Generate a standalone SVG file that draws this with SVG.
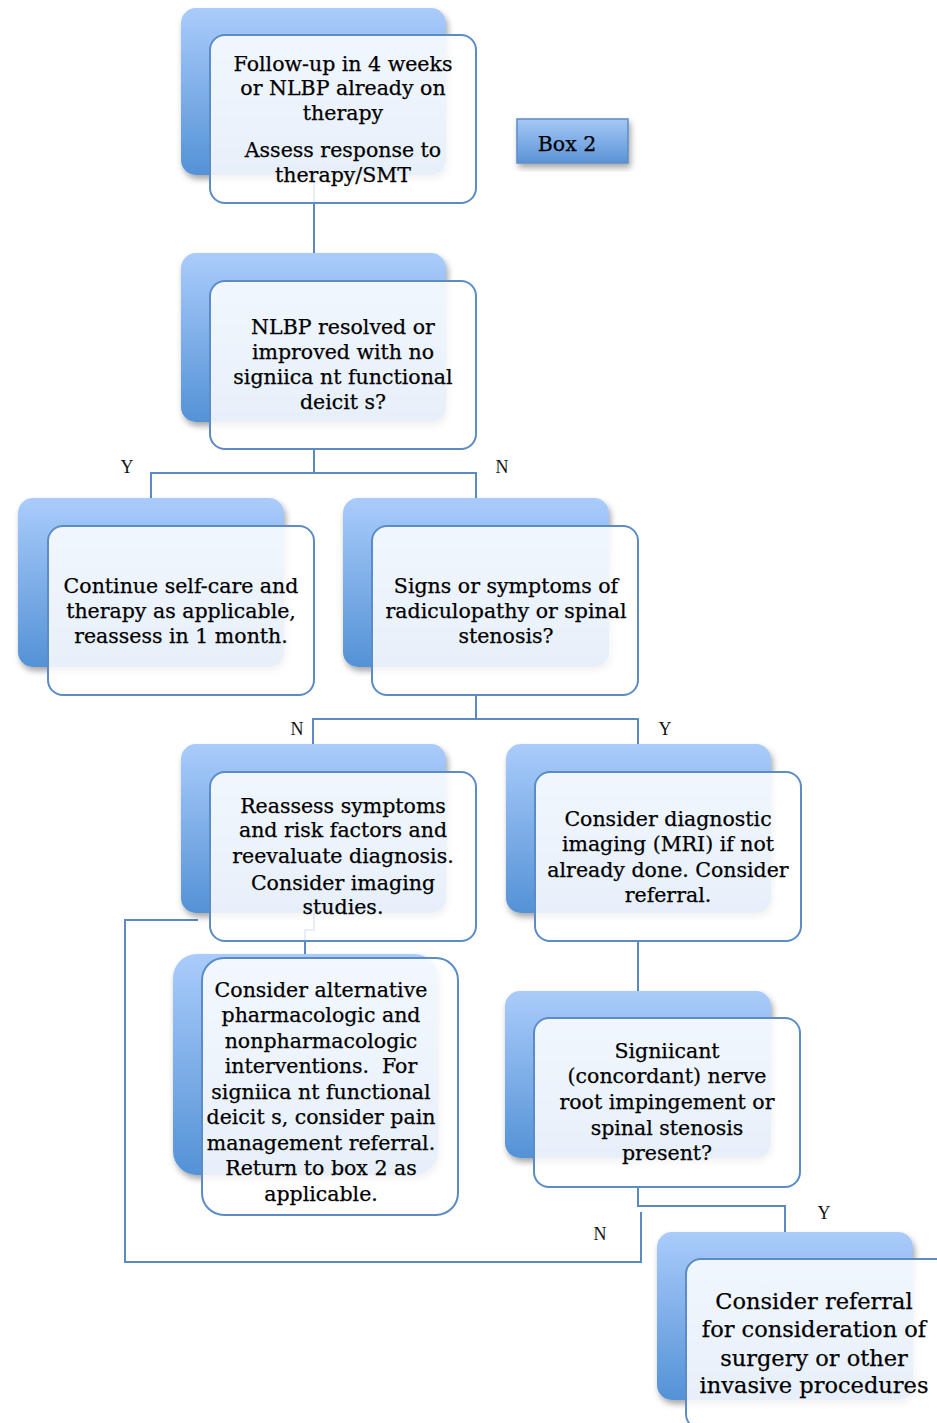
<svg xmlns="http://www.w3.org/2000/svg" width="937" height="1423" viewBox="0 0 937 1423">
  <defs>
    <linearGradient id="backFill" x1="0" y1="0" x2="0" y2="1">
      <stop offset="0" stop-color="#AACCFB"/>
      <stop offset="1" stop-color="#5492D6"/>
    </linearGradient>
    <linearGradient id="tagFill" x1="0" y1="0" x2="0" y2="1">
      <stop offset="0" stop-color="#A6C8F6"/>
      <stop offset="1" stop-color="#5A93D6"/>
    </linearGradient>
    <filter id="shadow" x="-10%" y="-10%" width="125%" height="130%">
      <feDropShadow dx="2" dy="4" stdDeviation="3" flood-color="#000" flood-opacity="0.35"/>
    </filter>
  </defs>
  <style>
    .back { fill: url(#backFill); filter: url(#shadow); }
    .front { fill: #FFFFFF; fill-opacity: 0.86; stroke: #5B8CC6; stroke-width: 2; }
    .wire { fill: none; stroke: #5A8AC4; stroke-width: 2; }
    .txt { font-family: "DejaVu Serif", "Liberation Serif", serif; font-size: 20.5px; fill: #000; text-anchor: middle; stroke: #000; stroke-width: 0.25; white-space: pre; }
    .big { font-size: 22.5px; }
    .lbl { font-family: "Liberation Serif", serif; font-size: 18px; fill: #111; text-anchor: middle; }
  </style>

  <rect width="937" height="1423" fill="#FFFFFF"/>

  <!-- connectors -->
  <g id="connectors">
    <path class="wire" d="M314,175 V253"/>
    <path class="wire" d="M314,449 V473 M151,498 V473 H476 V498"/>
    <path class="wire" d="M476,695 V719 M313,744 V719 H638 V744"/>
    <path class="wire" d="M314,913 V930 H305 V957"/>
    <path class="wire" d="M198,920 H125 V1262 H641 V1212"/>
    <path class="wire" d="M638,941 V991"/>
    <path class="wire" d="M638,1187 V1206 H785 V1232"/>
    <text class="lbl" x="127" y="473">Y</text>
    <text class="lbl" x="502" y="473">N</text>
    <text class="lbl" x="297" y="735">N</text>
    <text class="lbl" x="665" y="735">Y</text>
    <text class="lbl" x="600" y="1240">N</text>
    <text class="lbl" x="824" y="1219">Y</text>
  </g>

  <!-- Follow-up -->
  <g id="node-followup">
    <rect class="back" x="181" y="8" width="265" height="167" rx="15"/>
    <rect class="front" x="210" y="35" width="266" height="168" rx="15"/>
    <text class="txt" x="343" y="71">Follow-up in 4 weeks</text>
    <text class="txt" x="343" y="95">or NLBP already on</text>
    <text class="txt" x="343" y="120">therapy</text>
    <text class="txt" x="343" y="157">Assess response to</text>
    <text class="txt" x="343" y="182">therapy/SMT</text>
  </g>

  <!-- Box 2 tag -->
  <g id="node-box2">
    <rect x="517" y="119" width="111" height="44" fill="url(#tagFill)" stroke="#5B8CC6" stroke-width="1.5" filter="url(#shadow)"/>
    <text class="txt" x="567" y="151">Box 2</text>
  </g>

  <!-- Resolved? -->
  <g id="node-resolved">
    <rect class="back" x="181" y="253" width="265" height="169" rx="15"/>
    <rect class="front" x="210" y="281" width="266" height="168" rx="15"/>
    <text class="txt" x="343" y="334">NLBP resolved or</text>
    <text class="txt" x="343" y="359">improved with no</text>
    <text class="txt" x="343" y="384">signiica nt functional</text>
    <text class="txt" x="343" y="409">deicit s?</text>
  </g>

  <!-- Continue self-care -->
  <g id="node-continue">
    <rect class="back" x="18" y="498" width="266" height="169" rx="15"/>
    <rect class="front" x="48" y="526" width="266" height="169" rx="15"/>
    <text class="txt" x="181" y="593">Continue self-care and</text>
    <text class="txt" x="181" y="618">therapy as applicable,</text>
    <text class="txt" x="181" y="643">reassess in 1 month.</text>
  </g>

  <!-- Radiculopathy? -->
  <g id="node-signs">
    <rect class="back" x="343" y="498" width="266" height="169" rx="15"/>
    <rect class="front" x="372" y="526" width="266" height="169" rx="15"/>
    <text class="txt" x="506" y="593">Signs or symptoms of</text>
    <text class="txt" x="506" y="618">radiculopathy or spinal</text>
    <text class="txt" x="506" y="643">stenosis?</text>
  </g>

  <!-- Reassess -->
  <g id="node-reassess">
    <rect class="back" x="181" y="744" width="265" height="169" rx="15"/>
    <rect class="front" x="210" y="772" width="266" height="169" rx="15"/>
    <text class="txt" x="343" y="813">Reassess symptoms</text>
    <text class="txt" x="343" y="837">and risk factors and</text>
    <text class="txt" x="343" y="863">reevaluate diagnosis.</text>
    <text class="txt" x="343" y="890">Consider imaging</text>
    <text class="txt" x="343" y="914">studies.</text>
  </g>

  <!-- Imaging -->
  <g id="node-imaging">
    <rect class="back" x="506" y="744" width="265" height="169" rx="15"/>
    <rect class="front" x="535" y="772" width="266" height="169" rx="15"/>
    <text class="txt" x="668" y="826">Consider diagnostic</text>
    <text class="txt" x="668" y="851">imaging (MRI) if not</text>
    <text class="txt" x="668" y="877">already done. Consider</text>
    <text class="txt" x="668" y="902">referral.</text>
  </g>

  <!-- Alternatives -->
  <g id="node-alternatives">
    <rect class="back" x="173" y="954" width="265" height="221" rx="24"/>
    <rect class="front" x="202" y="958" width="256" height="257" rx="22"/>
    <text class="txt" x="321" y="997">Consider alternative</text>
    <text class="txt" x="321" y="1022">pharmacologic and</text>
    <text class="txt" x="321" y="1048">nonpharmacologic</text>
    <text class="txt" x="321" y="1073">interventions.  For</text>
    <text class="txt" x="321" y="1099">signiica nt functional</text>
    <text class="txt" x="321" y="1124">deicit s, consider pain</text>
    <text class="txt" x="321" y="1150">management referral.</text>
    <text class="txt" x="321" y="1175">Return to box 2 as</text>
    <text class="txt" x="321" y="1201">applicable.</text>
  </g>

  <!-- Stenosis present? -->
  <g id="node-significant">
    <rect class="back" x="505" y="991" width="266" height="167" rx="15"/>
    <rect class="front" x="534" y="1018" width="266" height="169" rx="15"/>
    <text class="txt" x="667" y="1058">Signiicant</text>
    <text class="txt" x="667" y="1083">(concordant) nerve</text>
    <text class="txt" x="667" y="1109">root impingement or</text>
    <text class="txt" x="667" y="1135">spinal stenosis</text>
    <text class="txt" x="667" y="1160">present?</text>
  </g>

  <!-- Referral -->
  <g id="node-referral">
    <rect class="back" x="657" y="1232" width="256" height="168" rx="15"/>
    <rect class="front" x="686" y="1259" width="266" height="170" rx="15"/>
    <text class="txt big" x="814" y="1309">Consider referral</text>
    <text class="txt big" x="814" y="1337">for consideration of</text>
    <text class="txt big" x="814" y="1366">surgery or other</text>
    <text class="txt big" x="814" y="1393">invasive procedures</text>
  </g>
</svg>
